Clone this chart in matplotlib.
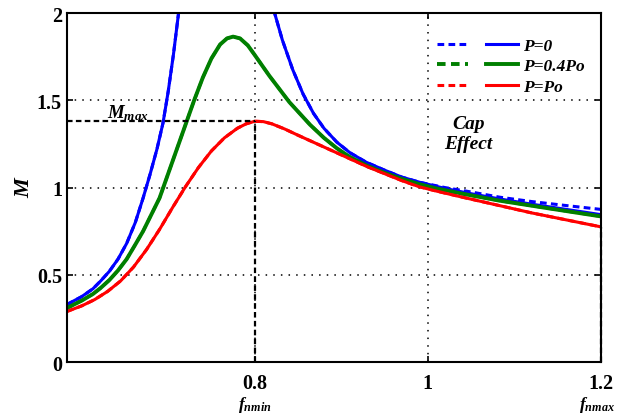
import matplotlib.pyplot as plt
from matplotlib.legend_handler import HandlerTuple
from matplotlib.lines import Line2D

plt.rcParams["font.family"] = ["Liberation Serif", "DejaVu Serif"]
plt.rcParams["font.weight"] = "bold"
plt.rcParams["mathtext.fontset"] = "custom"
plt.rcParams["mathtext.rm"] = "Liberation Serif:bold"
plt.rcParams["mathtext.it"] = "Liberation Serif:italic:bold"
plt.rcParams["mathtext.bf"] = "Liberation Serif:bold"

# P = 0 : two branches either side of the pole
f_p0_low = [0.583, 0.600, 0.613, 0.622, 0.632, 0.642, 0.652, 0.662, 0.671,
            0.679, 0.687, 0.694, 0.700, 0.706, 0.712, 0.714]
m_p0_low = [0.33, 0.375, 0.42, 0.465, 0.52, 0.59, 0.68, 0.80, 0.94,
            1.075, 1.22, 1.37, 1.55, 1.76, 2.00, 2.08]
f_p0_high = [0.821, 0.823, 0.832, 0.844, 0.856, 0.868, 0.880, 0.895, 0.910,
             0.929, 0.950, 0.970, 0.991, 1.02, 1.05, 1.083, 1.12, 1.16, 1.20]
m_p0_high = [2.08, 2.00, 1.845, 1.675, 1.535, 1.425, 1.34, 1.26, 1.20,
             1.145, 1.10, 1.06, 1.03, 0.995, 0.965, 0.935, 0.905, 0.875, 0.845]
m_p0_high_dash = [2.08, 2.00, 1.845, 1.675, 1.535, 1.425, 1.34, 1.26, 1.20,
                  1.145, 1.10, 1.06, 1.03, 1.00, 0.975, 0.945, 0.92, 0.897, 0.875]

# P = 0.4 Po
f_p04 = [0.583, 0.600, 0.613, 0.622, 0.632, 0.642, 0.652, 0.661, 0.671,
         0.680, 0.690, 0.700, 0.710, 0.720, 0.730, 0.740, 0.750, 0.760,
         0.768, 0.775, 0.783, 0.792, 0.800, 0.817, 0.840, 0.864, 0.880,
         0.895, 0.910, 0.930, 0.950, 0.970, 0.990, 1.01, 1.04, 1.083,
         1.141, 1.20]
m_p04 = [0.31, 0.352, 0.39, 0.425, 0.47, 0.525, 0.59, 0.665, 0.75,
         0.84, 0.94, 1.08, 1.22, 1.36, 1.50, 1.63, 1.74, 1.82,
         1.855, 1.865, 1.855, 1.815, 1.76, 1.64, 1.49, 1.36, 1.285,
         1.225, 1.175, 1.125, 1.085, 1.05, 1.02, 0.995, 0.965, 0.925,
         0.88, 0.835]

# P = Po
f_po = [0.583, 0.600, 0.615, 0.630, 0.645, 0.660, 0.675, 0.690, 0.705,
        0.720, 0.735, 0.750, 0.765, 0.780, 0.790, 0.800, 0.810, 0.820,
        0.835, 0.850, 0.870, 0.890, 0.910, 0.930, 0.950, 0.970, 0.990,
        1.01, 1.04, 1.08, 1.12, 1.16, 1.20]
m_po = [0.29, 0.322, 0.358, 0.405, 0.465, 0.545, 0.645, 0.76, 0.885,
        1.005, 1.115, 1.21, 1.285, 1.34, 1.365, 1.38, 1.378, 1.365,
        1.335, 1.30, 1.255, 1.21, 1.165, 1.12, 1.08, 1.04, 1.005,
        0.98, 0.945, 0.90, 0.855, 0.815, 0.775]

xticks = [0.8, 1.0, 1.2]
xtick_labels = ["0.8", "1", "1.2"]
yticks = [0, 0.5, 1, 1.5, 2]
ytick_labels = ["0", "0.5", "1", "1.5", "2"]
legend_labels = ["P=0", "P=0.4Po", "P=Po"]

blue = "#0000ff"
green = "#007f00"
red = "#ff0000"
dash = (0, (2.2, 1.4))

fig = plt.figure(figsize=(6.2, 4.14), dpi=100)
ax = fig.add_axes([0.108, 0.123, 0.861, 0.843])

# dashed curves underneath, solid on top
ax.plot(f_p0_low, m_p0_low, color=blue, lw=2.2, ls=dash)
ax.plot(f_p0_high, m_p0_high_dash, color=blue, lw=2.2, ls=dash)
ax.plot(f_p04, m_p04, color=green, lw=2.2, ls=dash)
ax.plot(f_po, m_po, color=red, lw=2.2, ls=dash)

ax.plot(f_p0_low, m_p0_low, color=blue, lw=2.2)
ax.plot(f_p0_high, m_p0_high, color=blue, lw=2.2)
ax.plot(f_p04, m_p04, color=green, lw=2.8)
ax.plot(f_po, m_po, color=red, lw=2.2)

ax.set_xlim(f_po[0], 1.2)
ax.set_ylim(0, 2)

# M_max markers
i_max = m_po.index(max(m_po))
m_max = m_po[i_max]
f_max = f_po[i_max]
ax.plot([f_po[0], f_max], [m_max, m_max], color="black", lw=1.6,
        ls=(0, (2.5, 1.5)), zorder=5)
ax.plot([f_max, f_max], [0, m_max], color="black", lw=1.6,
        ls=(0, (2.5, 1.5)), zorder=5)
ax.plot([f_po[-1], f_po[-1]], [0, m_po[-1]], color="black", lw=1.6,
        ls=(0, (2.5, 1.5)), zorder=5, clip_on=False)
ax.text(0.629, m_max + 0.025, "$M_{max}$", fontsize=13.5, ha="left",
        va="baseline")

ax.text(1.047, 1.31, "Cap\nEffect", fontsize=14, style="italic",
        fontweight="bold", ha="center", va="center", linespacing=1.2)

ax.set_xticks(xticks)
ax.set_xticklabels(xtick_labels)
ax.set_yticks(yticks)
ax.set_yticklabels(ytick_labels)
ax.tick_params(axis="both", direction="in", length=4, width=1.2,
               top=True, right=True, labelsize=14.5)
ax.tick_params(axis="x", pad=8)
ax.tick_params(axis="y", pad=3.6)
ax.grid(True, color="black", lw=1.1, ls=(0, (1, 4)))
ax.set_axisbelow(True)
for s in ax.spines.values():
    s.set_linewidth(1.5)

ax.set_ylabel("M", fontsize=16, style="italic", fontweight="bold",
              labelpad=2)

tr = ax.get_xaxis_transform()
ax.text(f_max, -0.12, "$f_{nmin}$", transform=tr, fontsize=12.5,
        ha="center", va="center")
ax.text(1.175, -0.12, "$f_{nmax}$", transform=tr, fontsize=12.5,
        ha="left", va="center", clip_on=False)

handles = []
for c, w in [(blue, 2.2), (green, 2.8), (red, 2.2)]:
    d = Line2D([], [], color=c, lw=w, ls=dash)
    s = Line2D([], [], color=c, lw=w)
    handles.append((d, s))
ax.legend(handles, legend_labels,
          handler_map={tuple: HandlerTuple(ndivide=None, pad=1.03)},
          loc="upper left", bbox_to_anchor=(0.693, 0.93), frameon=False,
          borderaxespad=0, borderpad=0, handlelength=4.65, handletextpad=0.3,
          labelspacing=0.25,
          prop={"size": 12.5, "style": "italic", "weight": "bold"})

fig.savefig("out.png", dpi=100)
